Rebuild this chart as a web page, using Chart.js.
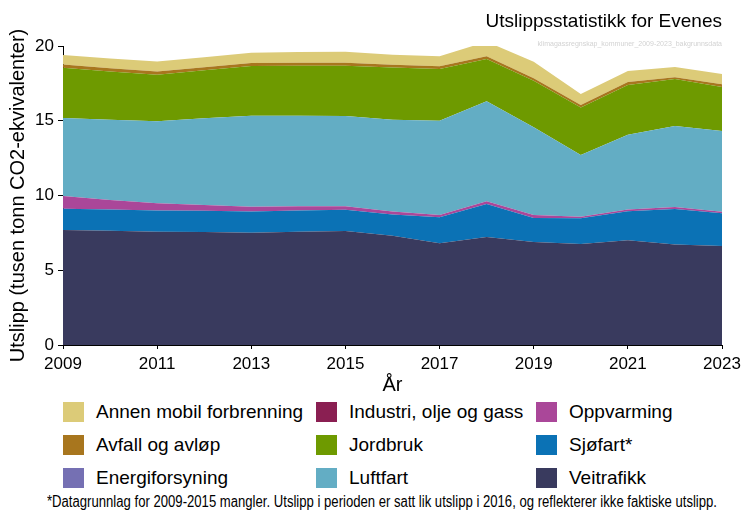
<!DOCTYPE html>
<html>
<head>
<meta charset="utf-8">
<script src="https://cdn.jsdelivr.net/npm/chart.js@4.4.1/dist/chart.umd.min.js"></script>
<style>
  html, body { margin: 0; padding: 0; background: #fff; }
  #wrap { position: relative; width: 742px; height: 510px; overflow: hidden; font-family: "Liberation Sans", Arial, sans-serif; color: #000; }
  #chartBox { position: absolute; left: 0; top: 0; width: 742px; height: 400px; }
  .abs { position: absolute; white-space: nowrap; }
  #title { right: 20px; top: 10.6px; font-size: 19px; line-height: 19px; }
  #subtitle { right: 20px; top: 39.6px; font-size: 7px; line-height: 7px; color: #d2d2d2; }
  .leg { position: absolute; display: flex; align-items: center; height: 20px; font-size: 19px; }
  .sw { width: 21px; height: 20px; margin-right: 12px; flex: none; }
  #foot { left: 47px; top: 493.5px; font-size: 16px; line-height: 16px; transform-origin: 0 0; }
</style>
</head>
<body>
<div id="wrap">
  <div id="chartBox"><canvas id="c" width="742" height="400"></canvas></div>
  <div id="title" class="abs">Utslippsstatistikk for Evenes</div>
  <div id="subtitle" class="abs">klimagassregnskap_kommuner_2009-2023_bakgrunnsdata</div>
  <div id="legend"></div>
  <div id="foot" class="abs">*Datagrunnlag for 2009-2015 mangler. Utslipp i perioden er satt lik utslipp i 2016, og reflekterer ikke faktiske utslipp.</div>
</div>
<script>
// ---- data (tusen tonn CO2-ekvivalenter) ----
const years = [2009, 2010, 2011, 2012, 2013, 2014, 2015, 2016, 2017, 2018, 2019, 2020, 2021, 2022, 2023];
const xTickValues = [2009, 2011, 2013, 2015, 2017, 2019, 2021, 2023];
const yTickValues = [0, 5, 10, 15, 20];

const veitrafikk      = [7.69, 7.64, 7.58, 7.56, 7.51, 7.58, 7.63, 7.31, 6.80, 7.22, 6.89, 6.76, 7.00, 6.73, 6.62];
const energiforsyning = [0, 0, 0, 0, 0, 0, 0, 0, 0, 0, 0, 0, 0, 0, 0];
const sjofart         = [1.42, 1.42, 1.42, 1.42, 1.42, 1.42, 1.42, 1.42, 1.74, 2.21, 1.60, 1.71, 1.94, 2.37, 2.19];
const oppvarming      = [0.85, 0.64, 0.48, 0.38, 0.32, 0.28, 0.23, 0.20, 0.16, 0.18, 0.21, 0.11, 0.13, 0.13, 0.11];
const industri        = [0, 0, 0, 0, 0, 0, 0, 0, 0, 0, 0, 0, 0, 0, 0];
const luftfart        = [5.23, 5.37, 5.48, 5.80, 6.09, 6.06, 6.04, 6.13, 6.30, 6.69, 5.86, 4.13, 5.00, 5.42, 5.39];
const jordbruk        = [3.35, 3.23, 3.12, 3.21, 3.32, 3.34, 3.36, 3.50, 3.46, 2.83, 3.12, 3.18, 3.32, 3.14, 2.95];
const avfall          = [0.22, 0.21, 0.21, 0.21, 0.20, 0.20, 0.20, 0.18, 0.18, 0.18, 0.16, 0.16, 0.20, 0.12, 0.18];
const annenMobil      = [0.63, 0.66, 0.67, 0.67, 0.69, 0.72, 0.74, 0.67, 0.67, 0.98, 1.11, 0.74, 0.74, 0.69, 0.69];

// stacking order: bottom -> top
const series = [
  { label: 'Veitrafikk', data: veitrafikk, color: '#393a5e' },
  { label: 'Energiforsyning', data: energiforsyning, color: '#7570b3' },
  { label: 'Sjøfart*', data: sjofart, color: '#0b72b5' },
  { label: 'Oppvarming', data: oppvarming, color: '#aa4799' },
  { label: 'Industri, olje og gass', data: industri, color: '#8a1f52' },
  { label: 'Luftfart', data: luftfart, color: '#63adc4' },
  { label: 'Jordbruk', data: jordbruk, color: '#6e9a00' },
  { label: 'Avfall og avløp', data: avfall, color: '#a8761e' },
  { label: 'Annen mobil forbrenning', data: annenMobil, color: '#dccb78' }
];

// legend layout (column-major, alphabetical)
const legendColumns = [
  ['Annen mobil forbrenning', 'Avfall og avløp', 'Energiforsyning'],
  ['Industri, olje og gass', 'Jordbruk', 'Luftfart'],
  ['Oppvarming', 'Sjøfart*', 'Veitrafikk']
];
const colX = [63, 316, 536];
const rowY = [402, 435, 468];
const legendEl = document.getElementById('legend');
legendColumns.forEach((col, ci) => {
  col.forEach((name, ri) => {
    const s = series.find(d => d.label === name);
    const item = document.createElement('div');
    item.className = 'leg';
    item.style.left = colX[ci] + 'px';
    item.style.top = rowY[ri] + 'px';
    const sw = document.createElement('span');
    sw.className = 'sw';
    sw.style.background = s.color;
    const tx = document.createElement('span');
    tx.textContent = name;
    item.appendChild(sw);
    item.appendChild(tx);
    legendEl.appendChild(item);
  });
});

// condensed footnote: fit to target width
(function () {
  const f = document.getElementById('foot');
  const w = f.getBoundingClientRect().width;
  const target = 670;
  if (w > 0) f.style.transform = 'scaleX(' + (target / w) + ')';
})();

Chart.defaults.font.family = '"Liberation Sans", Arial, sans-serif';
Chart.defaults.color = '#000';

const datasets = series.map((s, i) => ({
  label: s.label,
  data: years.map((yr, k) => ({ x: yr, y: s.data[k] })),
  backgroundColor: s.color,
  borderColor: s.color,
  borderWidth: 0,
  pointRadius: 0,
  pointHoverRadius: 0,
  tension: 0,
  fill: i === 0 ? 'origin' : '-1'
}));

new Chart(document.getElementById('c'), {
  type: 'line',
  data: { datasets },
  options: {
    responsive: false,
    animation: false,
    events: [],
    layout: { padding: { left: 0, right: 20, top: 46, bottom: 0 } },
    plugins: {
      legend: { display: false },
      tooltip: { enabled: false },
      filler: { propagate: false }
    },
    scales: {
      x: {
        type: 'linear',
        min: 2009,
        max: 2023,
        afterBuildTicks: (scale) => { scale.ticks = xTickValues.map(v => ({ value: v })); },
        afterFit: (scale) => { scale.height = 55; scale.paddingLeft = 0; scale.paddingRight = 0; },
        ticks: { font: { size: 17 }, color: '#000', padding: 5, maxRotation: 0, callback: (v) => String(v) },
        grid: { display: true, drawOnChartArea: false, drawTicks: true, tickLength: 4, tickColor: '#000', tickWidth: 1 },
        border: { display: true, color: '#000', width: 1 },
        title: { display: true, text: 'År', font: { size: 20 }, color: '#000', padding: { top: 0, bottom: 3 } }
      },
      y: {
        stacked: true,
        min: 0,
        max: 20,
        afterBuildTicks: (scale) => { scale.ticks = yTickValues.map(v => ({ value: v })); },
        afterFit: (scale) => { scale.width = 63; },
        ticks: { font: { size: 17 }, color: '#000', padding: 4, callback: (v) => String(v) },
        grid: { display: true, drawOnChartArea: false, drawTicks: true, tickLength: 5, tickColor: '#000', tickWidth: 1 },
        border: { display: true, color: '#000', width: 1 },
        title: { display: true, text: 'Utslipp (tusen tonn CO2-ekvivalenter)', font: { size: 20 }, color: '#000', padding: { top: 6, bottom: 0 } }
      }
    }
  }
});
</script>
</body>
</html>
